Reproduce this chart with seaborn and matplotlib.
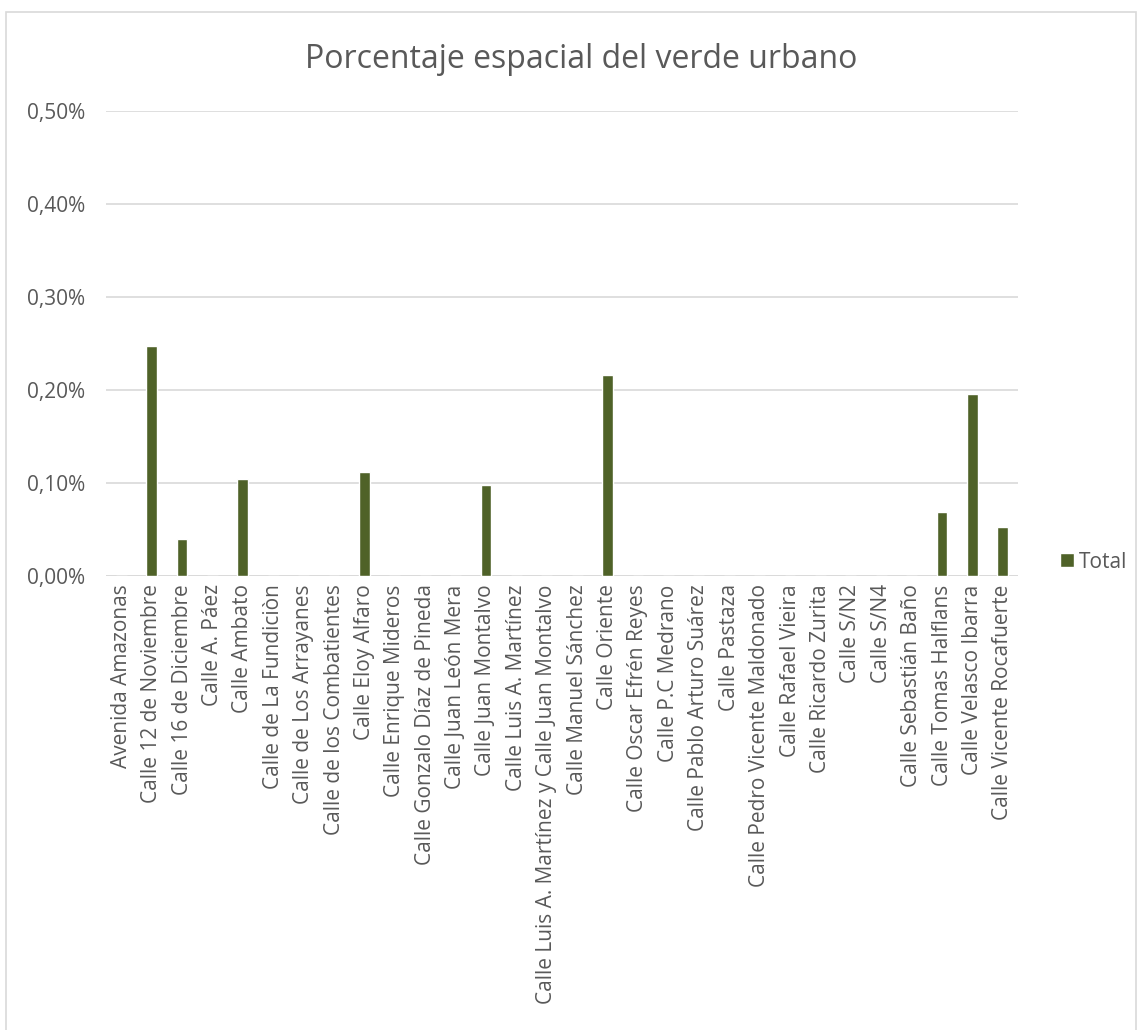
import pandas as pd
import seaborn as sns
import matplotlib.pyplot as plt
from matplotlib.patches import Rectangle
from matplotlib.ticker import FuncFormatter

# datos (porcentaje)
calles = [
    "Avenida Amazonas", "Calle 12 de Noviembre", "Calle 16 de Diciembre",
    "Calle A. Páez", "Calle Ambato", "Calle de La Fundiciòn",
    "Calle de Los Arrayanes", "Calle de los Combatientes", "Calle Eloy Alfaro",
    "Calle Enrique Mideros", "Calle Gonzalo Díaz de Pineda", "Calle Juan León Mera",
    "Calle Juan Montalvo", "Calle Luis A. Martínez",
    "Calle Luis A. Martínez y Calle Juan Montalvo", "Calle Manuel Sánchez",
    "Calle Oriente", "Calle Oscar Efrén Reyes", "Calle P.C Medrano",
    "Calle Pablo Arturo Suárez", "Calle Pastaza", "Calle Pedro Vicente Maldonado",
    "Calle Rafael Vieira", "Calle Ricardo Zurita", "Calle S/N2", "Calle S/N4",
    "Calle Sebastián Baño", "Calle Tomas Halflans", "Calle Velasco Ibarra",
    "Calle Vicente Rocafuerte",
]
total = [
    0.0, 0.247, 0.040, 0.0, 0.104, 0.0,
    0.0, 0.0, 0.112, 0.0, 0.0, 0.0,
    0.0975, 0.0, 0.0, 0.0,
    0.2165, 0.0, 0.0, 0.0, 0.0, 0.0,
    0.0, 0.0, 0.0, 0.0, 0.0, 0.0685, 0.1957, 0.0523,
]
yticks = [0.0, 0.1, 0.2, 0.3, 0.4, 0.5]

df = pd.DataFrame({"calle": calles, "valor": total, "serie": "Total"})

sns.set_theme(style="white")
plt.rcParams["font.family"] = ["Open Sans", "DejaVu Sans"]
gris = "#595959"

fig = plt.figure(figsize=(11.42, 10.30), dpi=100)
ax = fig.add_axes([106 / 1142, 1 - 576 / 1030, (1018 - 106) / 1142, (576 - 111) / 1030])

sns.barplot(data=df, x="calle", y="valor", hue="serie", palette=["#4F6228"],
            width=0.36, ax=ax, saturation=1)

ax.set_ylim(0, 0.5)
ax.set_xlim(-0.5, len(calles) - 0.5)
ax.set_yticks(yticks)
ax.yaxis.set_major_formatter(FuncFormatter(lambda v, p: f"{v:.2f}%".replace(".", ",")))
ax.grid(axis="y", color="#D9D9D9", linewidth=1.2)
ax.set_axisbelow(True)
for s in ["top", "right", "left", "bottom"]:
    ax.spines[s].set_visible(False)
ax.axhline(0, color="#D9D9D9", linewidth=1.2, zorder=0)
ax.set_xlabel("")
ax.set_ylabel("")
ax.tick_params(axis="x", labelrotation=90, labelsize=15, colors=gris, length=0, pad=6)
ax.tick_params(axis="y", labelsize=15, colors=gris, length=0, pad=15)

ax.legend(loc="center left", bbox_to_anchor=(1060 / 1142, 1 - 562 / 1030),
          bbox_transform=fig.transFigure, frameon=False, fontsize=15, borderpad=0,
          borderaxespad=0, handlelength=0.67, handleheight=0.67,
          handletextpad=0.25, labelcolor=gris)

fig.text(581 / 1142, 1 - 60 / 1030, "Porcentaje espacial del verde urbano",
         ha="center", va="center", fontsize=23, color=gris)

fig.patches.append(Rectangle((6 / 1142, -0.05), 1130 / 1142, 1.05 - 12 / 1030,
                             transform=fig.transFigure, fill=False,
                             edgecolor="#D9D9D9", linewidth=1.2))

plt.savefig("out.png", dpi=100)
